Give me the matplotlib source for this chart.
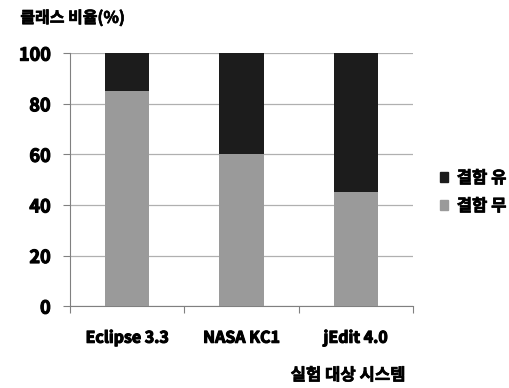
import numpy as np
import matplotlib.pyplot as plt
import matplotlib.patheffects as pe
from matplotlib.patches import Patch

plt.rcParams['font.family'] = ['Noto Sans CJK KR', 'DejaVu Sans']

systems = ['Eclipse 3.3', 'NASA KC1', 'jEdit 4.0']
no_defect = [85, 60, 45]      # 결함 무 (%)
defect = [15, 40, 55]         # 결함 유 (%)

c_gray = '#9a9a9a'
c_black = '#1c1c1c'
heavy = [pe.withStroke(linewidth=0.8, foreground='black')]
heavy_ko = [pe.withStroke(linewidth=0.5, foreground='black')]

fig = plt.figure(figsize=(5.09, 3.88), dpi=100)
ax = fig.add_axes([0.1375, 0.211, 0.674, 0.652])

x = np.arange(len(systems))
ax.bar(x, no_defect, width=0.39, color=c_gray, zorder=3)
ax.bar(x, defect, width=0.39, bottom=no_defect, color=c_black, zorder=3)

ax.set_xlim(-0.5, 2.5)
ax.set_ylim(0, 100)
ax.set_yticks([0, 20, 40, 60, 80, 100])
ax.yaxis.grid(True, color='#b0b0b0', lw=0.9, zorder=0)
ax.set_axisbelow(True)

ax.set_xticks([-0.5, 0.5, 1.5, 2.5])
ax.set_xticklabels([])
ax.set_xticks(x, minor=True)
ax.set_xticklabels(systems, minor=True, fontsize=11.5, fontweight='bold')
ax.tick_params(axis='x', which='major', length=5, color='#808080', direction='out')
ax.tick_params(axis='x', which='minor', length=0, pad=17)
ax.tick_params(axis='y', length=5, color='#808080', labelsize=13, pad=9)
for lab in ax.get_yticklabels() + ax.get_xticklabels(minor=True):
    lab.set_fontweight('bold')
    lab.set_path_effects(heavy)

for s in ['top', 'right']:
    ax.spines[s].set_visible(False)
ax.spines['left'].set_color('#808080')
ax.spines['bottom'].set_color('#808080')

fig.text(0.04, 0.955, '클래스 비율(%)', fontsize=11.5, fontweight='bold',
         va='center', path_effects=heavy_ko)
fig.text(0.684, 0.033, '실험 대상 시스템', fontsize=12, fontweight='bold',
         ha='center', va='center', path_effects=heavy_ko)

handles = [Patch(color=c_black), Patch(color=c_gray)]
leg = fig.legend(handles, ['결함 유', '결함 무'], loc='center left',
                 bbox_to_anchor=(0.835, 0.505), frameon=False,
                 prop={'size': 12, 'weight': 'bold'},
                 handlelength=0.5, handleheight=0.5, handletextpad=0.5, labelspacing=0.6)
for t in leg.get_texts():
    t.set_path_effects(heavy_ko)

fig.savefig('out.png', dpi=100)
